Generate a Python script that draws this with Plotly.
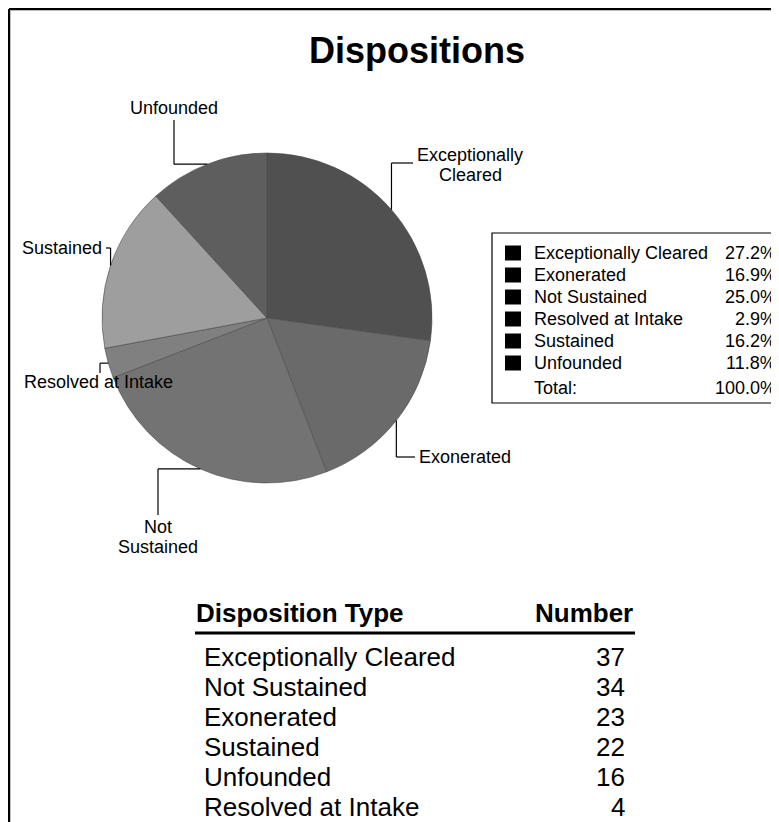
import math
import plotly.graph_objects as go

# the page puts the plot 8px in from the window's top-left corner
OX, OY = 8, 8
W, H = 779 - OX, 822 - OY

# ---------------- data ----------------
categories = ["Exceptionally Cleared", "Exonerated", "Not Sustained",
              "Resolved at Intake", "Sustained", "Unfounded"]
counts = [37, 23, 34, 4, 22, 16]
pie_labels = ["Exceptionally<br>Cleared", "Exonerated", "Not<br>Sustained",
              "Resolved at Intake", "Sustained", "Unfounded"]
slice_colors = ["#505050", "#6a6a6a", "#737373", "#808080", "#9e9e9e", "#5e5e5e"]
title_text = "Dispositions"
table_headers = ["Disposition Type", "Number"]
total_label = "Total:"

# ---------------- layout helpers (window pixel coordinates) ----------------
FONT = "Liberation Sans, Arial, Helvetica, sans-serif"
CX, CY, R = 267, 318, 165


def px(x):
    return (x - OX) / W


def py(y):
    return 1 - (y - OY) / H


annotations = []
shapes = []


def text(x, y, s, size=18, xanchor="left", bold=False, family=FONT):
    annotations.append(dict(
        x=px(x), y=py(y), xref="paper", yref="paper", text=f"<b>{s}</b>" if bold else s,
        showarrow=False, xanchor=xanchor, yanchor="middle",
        font=dict(family=family, size=size, color="black"), borderpad=0))


def line(x0, y0, x1, y1, width=1.2, color="black"):
    shapes.append(dict(type="line", xref="paper", yref="paper",
                       x0=px(x0), y0=py(y0), x1=px(x1), y1=py(y1),
                       line=dict(color=color, width=width)))


# ---------------- pie ----------------
fig = go.Figure(go.Pie(
    labels=categories, values=counts, sort=False, direction="clockwise", rotation=0,
    marker=dict(colors=slice_colors, line=dict(color="#4a4a4a", width=0.6)),
    textinfo="none", hoverinfo="label+value+percent", showlegend=False,
    domain=dict(x=[px(CX - R), px(CX + R)], y=[py(CY + R), py(CY - R)]),
))

# leader lines: attach at slice mid-angle on the rim
label_layout = {
    "Exceptionally Cleared": dict(route=("v", 163, 413), pos=(470, 155), xa="center"),
    "Exonerated": dict(route=("v", 457, 415), pos=(418, 457), xa="left"),
    "Not Sustained": dict(route=("h", 158, 515), pos=(158, 527), xa="center"),
    "Resolved at Intake": dict(route=("h", 100, 373), pos=(23, 382), xa="left"),
    "Sustained": dict(route=("v", 248, 106), pos=(103, 248), xa="right"),
    "Unfounded": dict(route=("h", 174, 120), pos=(174, 108), xa="center"),
}

total = sum(counts)
cum = 0
for cat, val, lab in zip(categories, counts, pie_labels):
    mid = (cum + val / 2) / total * 2 * math.pi
    cum += val
    ax = CX + R * math.sin(mid)
    ay = CY - R * math.cos(mid)
    lay = label_layout[cat]
    kind, a, b = lay["route"]
    if kind == "v":
        line(ax, ay, ax, a)
        line(ax, a, b, a)
    else:
        line(ax, ay, a, ay)
        line(a, ay, a, b)
    tx, ty = lay["pos"]
    for i, part in enumerate(lab.split("<br>")):
        text(tx, ty + i * 19.5, part, size=18, xanchor=lay["xa"])

# ---------------- title ----------------
text(417, 51, title_text, size=36, xanchor="center", bold=True)

# ---------------- legend box ----------------
shapes.append(dict(type="rect", xref="paper", yref="paper",
                   x0=px(492), y0=py(403), x1=px(800), y1=py(233),
                   line=dict(color="black", width=1.2), fillcolor="rgba(0,0,0,0)"))
for i, (cat, val) in enumerate(zip(categories, counts)):
    yy = 253 + 22 * i
    shapes.append(dict(type="rect", xref="paper", yref="paper",
                       x0=px(505), x1=px(521), y0=py(yy + 7.5), y1=py(yy - 7.5),
                       line=dict(width=0), fillcolor="black"))
    text(533, yy, cat, size=18)
    text(777, yy, f"{val / total * 100:.1f}%", size=18, xanchor="right")
text(533, 388, total_label, size=18)
text(777, 388, f"{sum(counts) / total * 100:.1f}%", size=18, xanchor="right")

# ---------------- table ----------------
text(195, 613, table_headers[0], size=26, bold=True)
text(634, 613, table_headers[1], size=26, xanchor="right", bold=True)
line(195, 633, 635, 633, width=3)
order = sorted(range(len(categories)), key=lambda k: -counts[k])
for r, k in enumerate(order):
    yy = 657 + 30 * r
    text(203, yy, categories[k], size=26)
    text(626, yy, str(counts[k]), size=26, xanchor="right")

# ---------------- frame ----------------
line(9, 9, 790, 9, width=2.5)
line(9, 9, 9, 830, width=2.5)

fig.update_layout(
    width=W, height=H, margin=dict(l=0, r=0, t=0, b=0),
    paper_bgcolor="white", plot_bgcolor="white",
    annotations=annotations, shapes=shapes,
)

fig.write_html("out.html")
